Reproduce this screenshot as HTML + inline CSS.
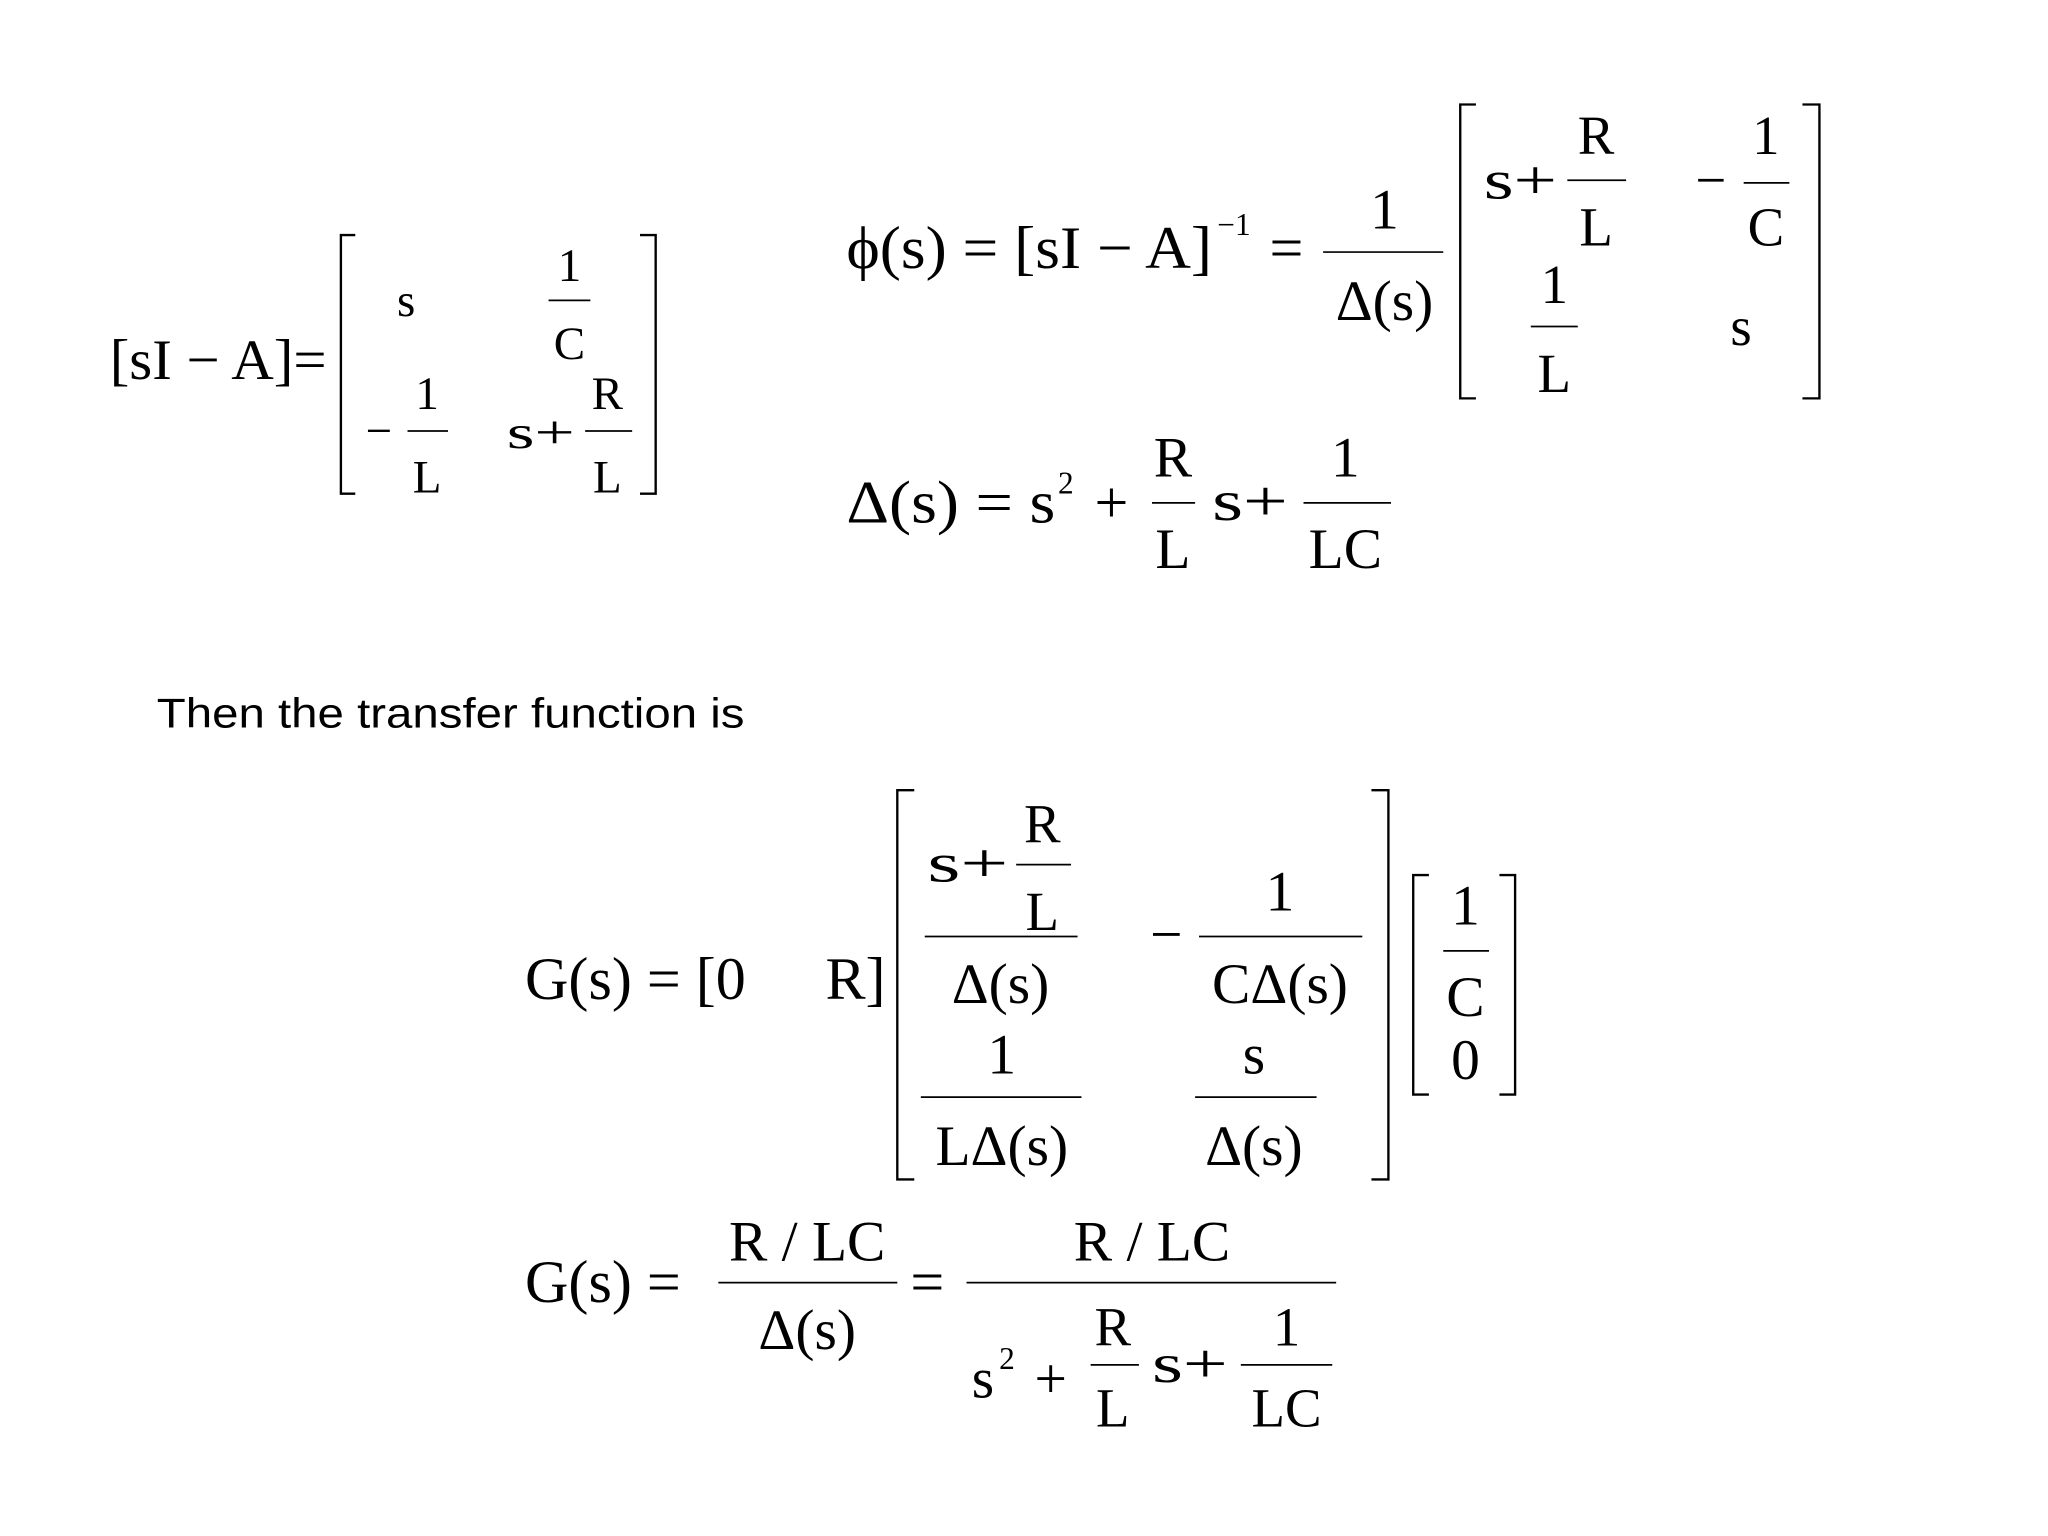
<!DOCTYPE html>
<html><head><meta charset="utf-8"><style>
html,body{margin:0;padding:0;background:#fff;}
svg{display:block}
text{font-family:"Liberation Serif",serif;fill:#000;}
.s{font-family:"Liberation Sans",sans-serif;}
</style></head><body>
<svg width="2048" height="1536" viewBox="0 0 1568 1176" xmlns="http://www.w3.org/2000/svg">
<g stroke="#000" stroke-width="1.8" fill="none">
<path d="M272 180 H261 V378 H272"/>
<path d="M490 180 H502 V378 H490"/>
<path d="M1130 80 H1118 V305 H1130"/>
<path d="M1380 80 H1393 V305 H1380"/>
<path d="M700 605 H687 V903 H700"/>
<path d="M1050 605 H1063 V903 H1050"/>
<path d="M1094 670 H1082 V838 H1094"/>
<path d="M1148 670 H1160 V838 H1148"/>
</g>
<g stroke="#000" stroke-width="1.3">
<line x1="420" y1="230" x2="452" y2="230"/>
<line x1="312" y1="330" x2="343" y2="330"/>
<line x1="448" y1="330" x2="484" y2="330"/>
<line x1="1013" y1="193" x2="1105" y2="193"/>
<line x1="1200" y1="138" x2="1245" y2="138"/>
<line x1="1335" y1="140" x2="1370" y2="140"/>
<line x1="1172" y1="250" x2="1208" y2="250"/>
<line x1="882" y1="385" x2="915" y2="385"/>
<line x1="998" y1="385" x2="1065" y2="385"/>
<line x1="778" y1="662" x2="820" y2="662"/>
<line x1="708" y1="717" x2="825" y2="717"/>
<line x1="918" y1="717" x2="1043" y2="717"/>
<line x1="705" y1="840" x2="828" y2="840"/>
<line x1="915" y1="840" x2="1008" y2="840"/>
<line x1="1105" y1="728" x2="1140" y2="728"/>
<line x1="550" y1="982" x2="687" y2="982"/>
<line x1="740" y1="982" x2="1023" y2="982"/>
<line x1="835" y1="1045" x2="872" y2="1045"/>
<line x1="950" y1="1045" x2="1020" y2="1045"/>
</g>
<text x="84" y="290" font-size="44" textLength="166" lengthAdjust="spacingAndGlyphs">[sI − A]=</text>
<text x="311" y="242" font-size="36" text-anchor="middle">s</text>
<text x="436" y="215" font-size="36" text-anchor="middle">1</text>
<text x="436" y="275" font-size="36" text-anchor="middle">C</text>
<text x="290" y="342" font-size="36" text-anchor="middle">−</text>
<text x="327" y="313" font-size="36" text-anchor="middle">1</text>
<text x="327" y="377" font-size="36" text-anchor="middle">L</text>
<text x="388" y="343" font-size="36" textLength="52" lengthAdjust="spacingAndGlyphs">s+</text>
<text x="465" y="313" font-size="36" text-anchor="middle">R</text>
<text x="465" y="377" font-size="36" text-anchor="middle">L</text>
<text x="648" y="205" font-size="46" textLength="280" lengthAdjust="spacingAndGlyphs">ϕ(s) = [sI − A]</text>
<text x="932" y="180" font-size="24">−1</text>
<text x="972" y="205" font-size="46">=</text>
<text x="1060" y="175" font-size="44" text-anchor="middle">1</text>
<text x="1060" y="245" font-size="44" text-anchor="middle">Δ(s)</text>
<text x="1136" y="152" font-size="42" textLength="56" lengthAdjust="spacingAndGlyphs">s+</text>
<text x="1222" y="118" font-size="42" text-anchor="middle">R</text>
<text x="1222" y="188" font-size="42" text-anchor="middle">L</text>
<text x="1310" y="152" font-size="42" text-anchor="middle">−</text>
<text x="1352" y="118" font-size="42" text-anchor="middle">1</text>
<text x="1352" y="188" font-size="42" text-anchor="middle">C</text>
<text x="1190" y="232" font-size="42" text-anchor="middle">1</text>
<text x="1190" y="300" font-size="42" text-anchor="middle">L</text>
<text x="1333" y="264" font-size="42" text-anchor="middle">s</text>
<text x="648" y="400" font-size="46" textLength="160" lengthAdjust="spacingAndGlyphs">Δ(s) = s</text>
<text x="810" y="378" font-size="24">2</text>
<text x="838" y="400" font-size="46">+</text>
<text x="898" y="365" font-size="44" text-anchor="middle">R</text>
<text x="898" y="435" font-size="44" text-anchor="middle">L</text>
<text x="928" y="398" font-size="44" textLength="58" lengthAdjust="spacingAndGlyphs">s+</text>
<text x="1030" y="365" font-size="44" text-anchor="middle">1</text>
<text x="1030" y="435" font-size="44" text-anchor="middle">LC</text>
<text class="s" x="120" y="557" font-size="32" textLength="450" lengthAdjust="spacingAndGlyphs">Then the transfer function is</text>
<text x="402" y="765" font-size="46">G(s) = [0</text>
<text x="632" y="765" font-size="46">R]</text>
<text x="710" y="675" font-size="42" textLength="62" lengthAdjust="spacingAndGlyphs">s+</text>
<text x="798" y="645" font-size="42" text-anchor="middle">R</text>
<text x="798" y="712" font-size="42" text-anchor="middle">L</text>
<text x="766" y="768" font-size="44" text-anchor="middle">Δ(s)</text>
<text x="893" y="730" font-size="44" text-anchor="middle">−</text>
<text x="980" y="697" font-size="44" text-anchor="middle">1</text>
<text x="980" y="768" font-size="44" text-anchor="middle">CΔ(s)</text>
<text x="767" y="822" font-size="44" text-anchor="middle">1</text>
<text x="767" y="892" font-size="44" text-anchor="middle">LΔ(s)</text>
<text x="960" y="822" font-size="44" text-anchor="middle">s</text>
<text x="960" y="892" font-size="44" text-anchor="middle">Δ(s)</text>
<text x="1122" y="708" font-size="44" text-anchor="middle">1</text>
<text x="1122" y="778" font-size="44" text-anchor="middle">C</text>
<text x="1122" y="826" font-size="44" text-anchor="middle">0</text>
<text x="402" y="997" font-size="46">G(s) =</text>
<text x="618" y="965" font-size="44" text-anchor="middle">R / LC</text>
<text x="618" y="1033" font-size="44" text-anchor="middle">Δ(s)</text>
<text x="697" y="997" font-size="46">=</text>
<text x="882" y="965" font-size="44" text-anchor="middle">R / LC</text>
<text x="744" y="1070" font-size="44">s</text>
<text x="765" y="1048" font-size="24">2</text>
<text x="792" y="1070" font-size="44">+</text>
<text x="852" y="1030" font-size="42" text-anchor="middle">R</text>
<text x="852" y="1092" font-size="42" text-anchor="middle">L</text>
<text x="882" y="1058" font-size="42" textLength="58" lengthAdjust="spacingAndGlyphs">s+</text>
<text x="985" y="1030" font-size="42" text-anchor="middle">1</text>
<text x="985" y="1092" font-size="42" text-anchor="middle">LC</text>
</svg>
</body></html>
